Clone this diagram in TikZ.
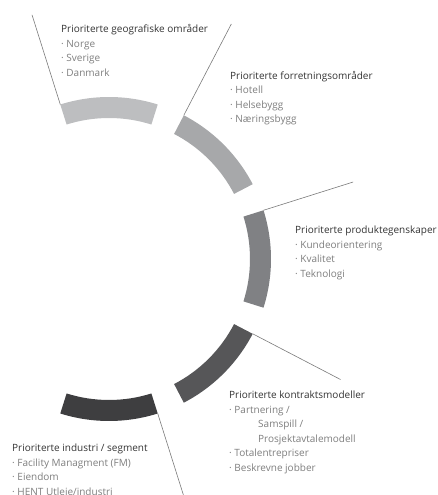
\documentclass[tikz,border=0pt]{standalone}
\usepackage{fontspec}
\setmainfont{Open Sans}
\usetikzlibrary{calc}
\definecolor{segA}{HTML}{BDBEC0}
\definecolor{segB}{HTML}{A7A8AA}
\definecolor{segC}{HTML}{808184}
\definecolor{segD}{HTML}{565658}
\definecolor{segE}{HTML}{3E3E40}
\definecolor{leadgray}{HTML}{7A7A7A}
\definecolor{headgray}{HTML}{333333}
\definecolor{itemgray}{HTML}{7E7E7E}
\begin{document}
\begin{tikzpicture}[x=1pt,y=1pt,
  leader/.style={draw=leadgray,line width=0.6pt},
  % base anchor of a multi-line block sits on its last line
  block/.style={anchor=base west,inner sep=0pt,align=left,
    font=\fontsize{10}{14.5}\selectfont,text=itemgray}]
\useasboundingbox (0,0) rectangle (437,495);
\coordinate (C) at (109,236);
% ring of annular segments: centre angle / colour / leader length
\foreach \a/\col/\len [count=\i] in {90/segA/256,45/segB/265,0/segC/256,-45/segD/261,-90/segE/262}{
  \fill[\col] ($(C)+(\a-17.5:141)$) arc[start angle=\a-17.5,end angle=\a+17.5,radius=141]
    -- ($(C)+(\a+17.5:162)$) arc[start angle=\a+17.5,end angle=\a-17.5,radius=162] -- cycle;
  \coordinate (s\i) at ($(C)+(\a+17.5:162)$);
  \coordinate (e\i) at ($(C)+(\a+17.5:\len)$);
  \draw[leader] (s\i) -- (e\i);
}
% text blocks
\node[block] (geo) at (61,418.5) {\textcolor{headgray}{Prioriterte geografiske områder}\\
  · Norge\\ · Sverige\\ · Danmark};
\node[block] (forr) at (230,372) {\textcolor{headgray}{Prioriterte forretningsområder}\\
  · Hotell\\ · Helsebygg\\ · Næringsbygg};
\node[block] (prod) at (295,217.5) {\textcolor{headgray}{Prioriterte produktegenskaper}\\
  · Kundeorientering\\ · Kvalitet\\ · Teknologi};
\node[block] (kontr) at (229,23.5) {\textcolor{headgray}{Prioriterte kontraktsmodeller}\\
  · Partnering /\\ \hspace{29pt}Samspill /\\ \hspace{29pt}Prosjektavtalemodell\\
  · Totalentrepriser\\ · Beskrevne jobber};
\node[block] (ind) at (12,-0.5) {\textcolor{headgray}{Prioriterte industri / segment}\\
  · Facility Managment (FM)\\ · Eiendom\\ · HENT Utleie/industri};
\end{tikzpicture}
\end{document}
